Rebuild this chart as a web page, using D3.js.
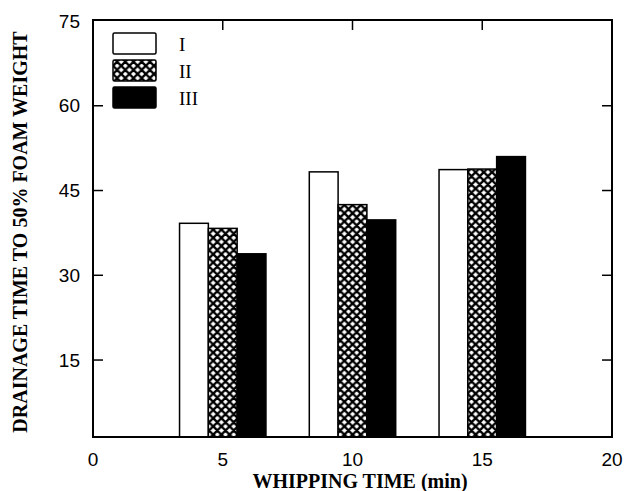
<!DOCTYPE html>
<html>
<head>
<meta charset="utf-8">
<script src="https://cdn.jsdelivr.net/npm/d3@7"></script>
<style>
  body { margin: 0; background: #fff; }
  svg { display: block; }
</style>
</head>
<body>
<div id="chart"></div>
<script>
// whipping time groups and the three series
var times = [5, 10, 15];
var seriesNames = ["I", "II", "III"];
var valuesI = [39.2, 48.3, 48.7];
var valuesII = [38.3, 42.5, 48.8];
var valuesIII = [33.8, 39.8, 51.0];
var yTicks = [15, 30, 45, 60, 75];
var xTicks = [0, 5, 10, 15, 20];

var W = 624, H = 491;
var svg = d3.select("#chart").append("svg").attr("width", W).attr("height", H);

var defs = svg.append("defs");
var P = 8.2;
var pat = defs.append("pattern").attr("id", "xhatch")
  .attr("patternUnits", "userSpaceOnUse")
  .attr("width", P).attr("height", P);
pat.append("rect").attr("width", P).attr("height", P).attr("fill", "#fff");
pat.append("path")
  .attr("d", "M0,0L" + P + "," + P + "M" + P + ",0L0," + P +
    "M-1," + (P - 1) + "L1," + (P + 1) + "M" + (P - 1) + ",-1L" + (P + 1) + ",1" +
    "M-1,1L1,-1M" + (P - 1) + "," + (P + 1) + "L" + (P + 1) + "," + (P - 1))
  .attr("stroke", "#000").attr("stroke-width", 2.4);

var fills = ["#fff", "url(#xhatch)", "#000"];

// plot frame
var plotL = 93, plotR = 612, plotT = 20, plotB = 437;
var x = d3.scaleLinear().domain([0, 20]).range([plotL, plotR]);
// axis floor sits a little above zero in the original figure
var y = d3.scaleLinear().domain([0, 75]).range([444.8, 21]);

var data = [];
times.forEach(function(t, i){
  [valuesI, valuesII, valuesIII].forEach(function(vals, j){
    data.push({t: t, s: j, v: vals[i]});
  });
});

var barW = 1.11;
svg.selectAll("rect.bar").data(data).enter().append("rect")
  .attr("class", "bar")
  .attr("x", function(d){ return x(d.t + (d.s - 1) * barW - barW / 2); })
  .attr("width", function(){ return x(barW) - x(0); })
  .attr("y", function(d){ return y(d.v); })
  .attr("height", function(d){ return plotB - y(d.v); })
  .attr("fill", function(d){ return fills[d.s]; })
  .attr("stroke", "#000").attr("stroke-width", 1.5);

// frame
svg.append("rect").attr("x", plotL).attr("y", plotT)
  .attr("width", plotR - plotL).attr("height", plotB - plotT)
  .attr("fill", "none").attr("stroke", "#000").attr("stroke-width", 2);

// inward ticks
var tickLen = 10;
var g = svg.append("g").attr("stroke", "#000").attr("stroke-width", 1.5);
yTicks.filter(function(v){ return v < 75; }).forEach(function(v){
  g.append("line").attr("x1", plotL).attr("x2", plotL + tickLen).attr("y1", y(v)).attr("y2", y(v));
  g.append("line").attr("x1", plotR).attr("x2", plotR - tickLen).attr("y1", y(v)).attr("y2", y(v));
});
xTicks.filter(function(v){ return v > 0 && v < 20; }).forEach(function(v){
  g.append("line").attr("x1", x(v)).attr("x2", x(v)).attr("y1", plotT).attr("y2", plotT + tickLen);
});

// tick labels
svg.selectAll("text.ylab").data(yTicks).enter().append("text")
  .attr("x", 80).attr("y", function(d){ return y(d); })
  .attr("dy", "0.35em").attr("text-anchor", "end")
  .style("font-family", "Liberation Sans, Arial, sans-serif").style("font-size", "19px")
  .text(function(d){ return d; });

svg.selectAll("text.xlab").data(xTicks).enter().append("text")
  .attr("x", function(d){ return x(d); }).attr("y", 466)
  .attr("text-anchor", "middle")
  .style("font-family", "Liberation Sans, Arial, sans-serif").style("font-size", "19px")
  .text(function(d){ return d; });

// axis titles
svg.append("text").attr("x", 360).attr("y", 488).attr("text-anchor", "middle")
  .style("font-family", "Liberation Serif, serif").style("font-weight", "bold").style("font-size", "20px")
  .text("WHIPPING TIME (min)");

svg.append("text").attr("transform", "translate(27,232) rotate(-90)").attr("text-anchor", "middle")
  .style("font-family", "Liberation Serif, serif").style("font-weight", "bold").style("font-size", "20px")
  .text("DRAINAGE TIME TO 50% FOAM WEIGHT");

// legend
var leg = svg.append("g").attr("transform", "translate(113,33)");
seriesNames.forEach(function(name, i){
  leg.append("rect").attr("x", 0).attr("y", i * 27).attr("width", 43).attr("height", 21)
    .attr("rx", 1.5)
    .attr("fill", fills[i]).attr("stroke", "#000").attr("stroke-width", 1.5);
  leg.append("text").attr("x", 66).attr("y", i * 27 + 11).attr("dy", "0.35em")
    .style("font-family", "Liberation Serif, serif").style("font-size", "19px")
    .text(name);
});
</script>
</body>
</html>
